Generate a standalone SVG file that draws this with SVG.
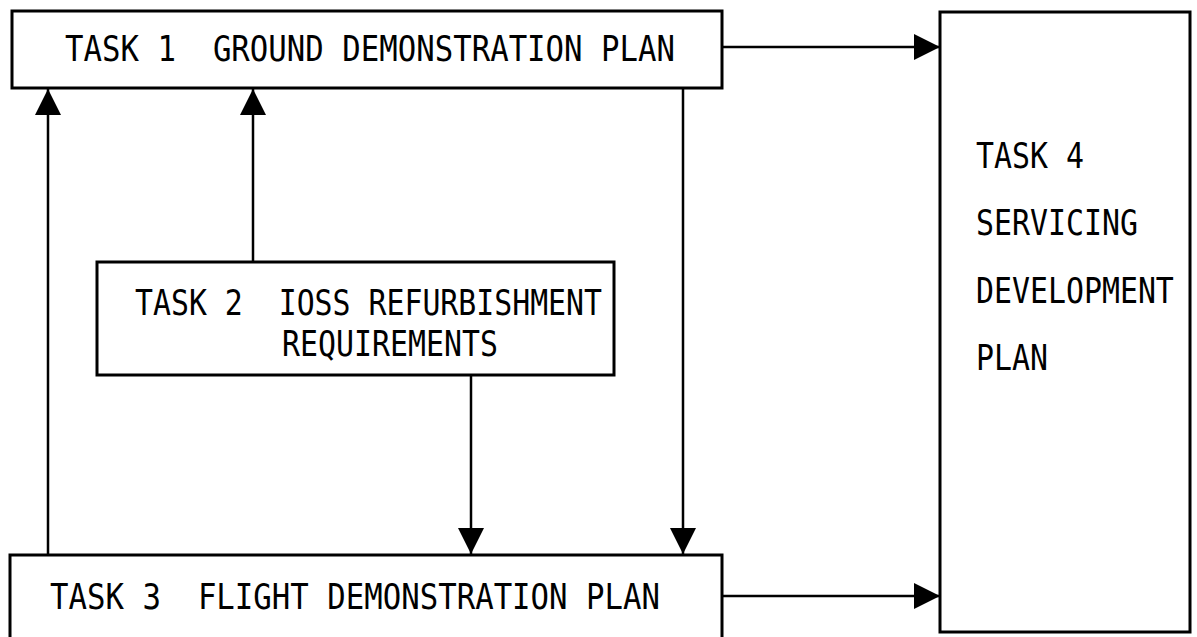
<svg xmlns="http://www.w3.org/2000/svg" width="1197" height="637" viewBox="0 0 1197 637">
<style>
.box{fill:#fff;stroke:#000;stroke-width:3}
.lbl{font-family:"DejaVu Sans Mono","Liberation Mono",monospace;font-size:36px;fill:#000}
.con{fill:none;stroke:#000;stroke-width:2.5}
</style>
<defs>
<marker id="ah" viewBox="0 0 26 26" refX="26" refY="13" markerWidth="26" markerHeight="26" markerUnits="userSpaceOnUse" orient="auto">
<path d="M0,0 L26,13 L0,26 Z" fill="#000"/>
</marker>
</defs>
<rect width="1197" height="637" fill="#fff"/>
<g id="connectors">
<line class="con" x1="722" y1="47" x2="940" y2="47" marker-end="url(#ah)"/>
<line class="con" x1="722" y1="596" x2="940" y2="596" marker-end="url(#ah)"/>
<line class="con" x1="48" y1="555" x2="48" y2="89" marker-end="url(#ah)"/>
<line class="con" x1="253" y1="262" x2="253" y2="89" marker-end="url(#ah)"/>
<line class="con" x1="471" y1="375" x2="471" y2="554" marker-end="url(#ah)"/>
<line class="con" x1="683" y1="88" x2="683" y2="554" marker-end="url(#ah)"/>
</g>
<g id="task1">
<rect class="box" x="12" y="11" width="710" height="77"/>
<text class="lbl" x="65" y="61" textLength="610" lengthAdjust="spacingAndGlyphs" xml:space="preserve">TASK 1  GROUND DEMONSTRATION PLAN</text>
</g>
<g id="task2">
<rect class="box" x="97" y="262" width="517" height="113"/>
<text class="lbl" x="135" y="315" textLength="467" lengthAdjust="spacingAndGlyphs" xml:space="preserve">TASK 2  IOSS REFURBISHMENT</text>
<text class="lbl" x="282" y="356" textLength="216" lengthAdjust="spacingAndGlyphs">REQUIREMENTS</text>
</g>
<g id="task3">
<rect class="box" x="10" y="555" width="712" height="90"/>
<text class="lbl" x="50" y="609" textLength="610" lengthAdjust="spacingAndGlyphs" xml:space="preserve">TASK 3  FLIGHT DEMONSTRATION PLAN</text>
</g>
<g id="task4">
<rect class="box" x="940" y="12" width="250" height="620"/>
<g transform="translate(976,0) scale(0.83,1)">
<text class="lbl" x="0" y="168">TASK 4</text>
<text class="lbl" x="0" y="235">SERVICING</text>
<text class="lbl" x="0" y="303">DEVELOPMENT</text>
<text class="lbl" x="0" y="370">PLAN</text>
</g>
</g>
</svg>
